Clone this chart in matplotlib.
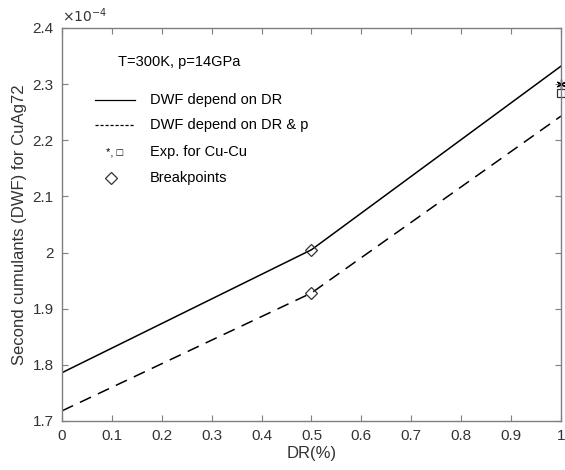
import matplotlib.pyplot as plt

plt.rcParams['font.family'] = ['Liberation Sans', 'DejaVu Sans']

# DWF (in units of 1e-4) against DR
dr = [0.0, 0.5, 1.0]
dwf_dr = [1.786, 2.005, 2.332]
dwf_dr_p = [1.718, 1.928, 2.243]

# breakpoints at DR = 0.5
bp_x = [0.5, 0.5]
bp_y = [2.005, 1.928]

# experimental values for Cu-Cu
exp_x = [1.0]
exp_star = [2.301]
exp_square = [2.285]

axis_color = '#7f7f7f'
text_color = '#333333'

fig = plt.figure(figsize=(5.65, 4.7), dpi=100)
ax = fig.add_axes([0.1097, 0.1043, 0.8832, 0.8362])

ax.plot(dr, dwf_dr, color='black', linewidth=1.1, linestyle='-')
ax.plot(dr, dwf_dr_p, color='black', linewidth=1.1, linestyle=(0, (8, 5)))
ax.plot(bp_x, bp_y, linestyle='none', marker='D', markersize=6.5,
        markerfacecolor='none', markeredgecolor='#333333', markeredgewidth=0.9)
ax.plot(exp_x, exp_star, linestyle='none', marker=(6, 2, 0), markersize=7,
        color='black', markeredgewidth=0.9, clip_on=False)
ax.plot(exp_x, exp_square, linestyle='none', marker='s', markersize=6,
        markerfacecolor='none', markeredgecolor='#333333', markeredgewidth=0.9,
        clip_on=False)

ax.set_xlim(0, 1)
ax.set_ylim(1.7, 2.4)
ax.set_xticks([0, 0.1, 0.2, 0.3, 0.4, 0.5, 0.6, 0.7, 0.8, 0.9, 1])
ax.set_yticks([1.7, 1.8, 1.9, 2.0, 2.1, 2.2, 2.3, 2.4])
ax.set_xticklabels(['0', '0.1', '0.2', '0.3', '0.4', '0.5', '0.6', '0.7',
                    '0.8', '0.9', '1'])
ax.set_yticklabels(['1.7', '1.8', '1.9', '2', '2.1', '2.2', '2.3', '2.4'])

ax.tick_params(direction='in', length=4, width=0.8, top=True, right=True,
               colors=axis_color, labelcolor=text_color, labelsize=11, pad=6)
for side in ax.spines.values():
    side.set_color(axis_color)
    side.set_linewidth(1.0)

ax.set_xlabel('DR(%)', fontsize=12, color=text_color, labelpad=2)
ax.set_ylabel('Second cumulants (DWF) for CuAg72', fontsize=12,
              color=text_color, labelpad=4)
ax.text(0.0, 1.008, r'$\times10^{-4}$', transform=ax.transAxes, fontsize=10,
        color=text_color, ha='left', va='bottom')

# key
ax.text(0.112, 0.913, 'T=300K, p=14GPa', transform=ax.transAxes,
        fontsize=10.5, color='black', va='center')
rows = [0.817, 0.753, 0.684, 0.618]
ax.plot([0.066, 0.146], [rows[0], rows[0]], color='black', linewidth=0.9,
        transform=ax.transAxes)
ax.plot([0.066, 0.146], [rows[1], rows[1]], color='black', linewidth=0.9,
        linestyle=(0, (2.5, 1.5)), transform=ax.transAxes)
ax.text(0.106, rows[2], '*, \u25a1', transform=ax.transAxes, fontsize=8,
        color='black', ha='center', va='center')
ax.plot([0.098], [rows[3]], marker='D', markersize=6.5, markerfacecolor='none',
        markeredgecolor='#333333', markeredgewidth=0.9,
        transform=ax.transAxes)
labels = ['DWF depend on DR', 'DWF depend on DR & p', 'Exp. for Cu-Cu',
          'Breakpoints']
for y, lab in zip(rows, labels):
    ax.text(0.176, y, lab, transform=ax.transAxes, fontsize=10.5,
            color='black', va='center')

plt.savefig('out.png', dpi=100)
plt.close()
